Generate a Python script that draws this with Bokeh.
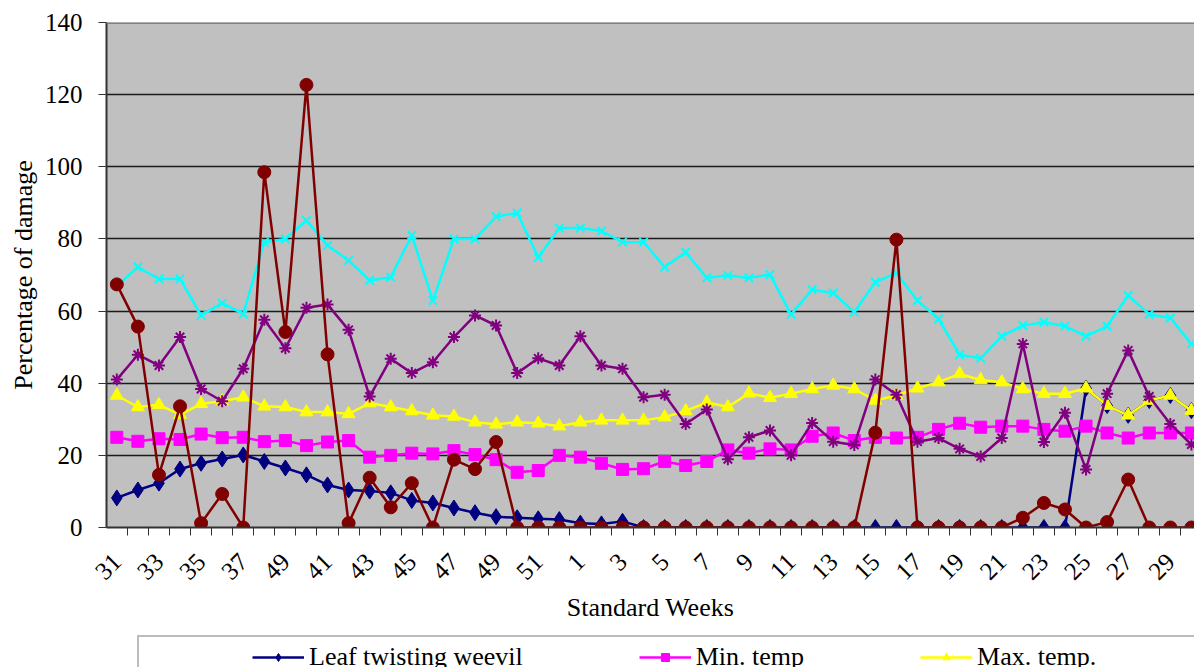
import math
from bokeh.plotting import figure
from bokeh.layouts import column
from bokeh.models import Range1d, FixedTicker, Legend, LegendItem, Span
from bokeh.embed import file_html
from bokeh.resources import INLINE

# ---- data -------------------------------------------------------------
week_labels = ["31", "32", "33", "34", "35", "36", "37", "38", "49", "40",
               "41", "42", "43", "44", "45", "46", "47", "48", "49", "50",
               "51", "52", "1", "2", "3", "4", "5", "6", "7", "8", "9", "10",
               "11", "12", "13", "14", "15", "16", "17", "18", "19", "20",
               "21", "22", "23", "24", "25", "26", "27", "28", "29", "30"]

weevil = [8.2, 10.4, 12.3, 16.2, 17.8, 19.0, 20.1, 18.3, 16.5, 14.6, 11.8, 10.4,
          10.1, 9.6, 7.5, 6.8, 5.4, 4.1, 3.0, 2.7, 2.4, 2.2, 1.2, 1.0, 1.7,
          0, 0, 0, 0, 0, 0, 0, 0, 0, 0, 0, 0, 0, 0, 0, 0, 0, 0, 0, 0, 0,
          38.6, 33.8, 31.1, 35.2, 36.6, 32.4]

min_temp = [25.0, 23.9, 24.6, 24.4, 25.9, 24.9, 25.0, 23.8, 24.1, 22.7, 23.7, 24.1,
            19.5, 20.0, 20.6, 20.4, 21.3, 20.2, 18.8, 15.3, 15.8, 20.0, 19.5, 17.8,
            16.1, 16.3, 18.3, 17.2, 18.3, 21.5, 20.6, 21.8, 21.5, 25.3, 26.2, 24.1,
            25.0, 24.8, 25.0, 27.2, 28.9, 27.8, 28.1, 28.1, 27.2, 26.7, 28.1, 26.2,
            24.8, 26.2, 26.2, 26.2]

max_temp = [36.6, 33.4, 34.0, 31.3, 34.3, 35.0, 36.1, 33.6, 33.4, 32.0, 32.0, 31.5,
            34.5, 33.4, 32.3, 31.1, 30.8, 29.2, 28.6, 29.2, 28.9, 28.1, 29.2, 29.7,
            29.7, 29.7, 30.6, 32.3, 34.7, 33.4, 37.2, 36.0, 37.1, 38.4, 39.4, 38.4,
            35.2, 36.6, 38.6, 40.3, 42.6, 40.9, 40.3, 38.4, 37.1, 37.1, 38.6, 33.8,
            31.1, 35.2, 36.6, 32.4]

rh_morning = [67.0, 72.2, 68.9, 68.9, 58.8, 62.2, 59.2, 79.1, 80.0, 85.1, 78.2, 74.0,
              68.5, 69.4, 81.0, 62.9, 80.0, 80.0, 86.2, 87.2, 74.9, 83.0, 83.0, 82.2,
              79.1, 79.1, 72.2, 76.3, 69.2, 69.9, 69.2, 70.1, 59.1, 65.9, 65.0, 59.7,
              68.0, 70.5, 62.9, 57.8, 47.9, 46.9, 53.0, 56.0, 56.9, 55.8, 53.0, 55.8,
              64.3, 59.1, 58.1, 50.9]

rh_evening = [41.0, 47.9, 44.9, 52.8, 38.4, 35.0, 44.0, 57.6, 49.7, 60.9, 61.8, 54.8,
              36.3, 46.8, 42.8, 45.8, 52.8, 58.8, 56.0, 42.8, 46.9, 44.9, 53.0, 44.9,
              44.0, 36.1, 36.8, 28.7, 32.7, 18.9, 25.0, 26.9, 20.0, 29.0, 23.8, 22.9,
              41.0, 36.8, 23.8, 24.8, 21.8, 19.7, 24.8, 50.9, 23.7, 31.8, 16.1, 37.1,
              49.1, 36.3, 28.7, 23.0]

rainfall = [67.4, 55.7, 14.6, 33.6, 1.2, 9.3, 0, 98.5, 54.2, 122.7, 48.0, 1.2,
            13.8, 5.6, 12.3, 0, 18.8, 16.2, 23.7, 0, 0, 0, 0, 0, 0, 0, 0, 0, 0, 0,
            0, 0, 0, 0, 0, 0, 26.3, 79.8, 0, 0, 0, 0, 0, 2.7, 6.8, 5.0, 0, 1.5,
            13.3, 0, 0, 0]

y_ticks = [0, 20, 40, 60, 80, 100, 120, 140]

# ---- chart --------------------------------------------------------------
FONT = "'Times New Roman', 'Liberation Serif', serif"
xs = list(range(len(week_labels)))

p = figure(width=1194, height=634, output_backend="svg", toolbar_location=None,
           x_range=Range1d(-0.49, -0.49 + 1088 / 21.07), y_range=Range1d(0, 140),
           min_border_left=106, min_border_right=0, min_border_top=22,
           min_border_bottom=107)
p.background_fill_color = "#C0C0C0"
p.border_fill_color = "white"
p.outline_line_color = None

xa = p.xaxis[0]
xa.ticker = FixedTicker(ticks=xs[::2], minor_ticks=[i - 0.5 for i in range(len(xs) + 1)])
xa.major_label_overrides = {i: week_labels[i] for i in xs[::2]}
xa.major_label_orientation = math.pi / 4
xa.major_tick_line_color = None
xa.minor_tick_line_color = "#333333"
xa.minor_tick_in = 0
xa.minor_tick_out = 8
xa.axis_line_color = "#333333"
xa.axis_line_width = 2
xa.major_label_text_font = FONT
xa.major_label_text_font_size = "25px"
xa.major_label_text_color = "black"
xa.major_label_standoff = 22
xa.axis_label = "Standard Weeks"
xa.axis_label_text_font = FONT
xa.axis_label_text_font_size = "26px"
xa.axis_label_text_font_style = "normal"
xa.axis_label_text_color = "black"
xa.axis_label_standoff = 3

ya = p.yaxis[0]
ya.ticker = FixedTicker(ticks=y_ticks)
ya.minor_tick_line_color = None
ya.major_tick_in = 0
ya.major_tick_out = 8
ya.major_tick_line_color = "#333333"
ya.axis_line_color = "#333333"
ya.axis_line_width = 2
ya.major_label_text_font = FONT
ya.major_label_text_font_size = "25px"
ya.major_label_text_color = "black"
ya.major_label_standoff = 16
ya.axis_label = "Percentage of damage"
ya.axis_label_text_font = FONT
ya.axis_label_text_font_size = "26px"
ya.axis_label_text_font_style = "normal"
ya.axis_label_text_color = "black"
ya.axis_label_standoff = 4

p.xgrid.grid_line_color = None
p.ygrid.ticker = FixedTicker(ticks=y_ticks[1:-1])
p.ygrid.grid_line_color = "#1a1a1a"
p.ygrid.grid_line_width = 1.5
p.add_layout(Span(location=140, dimension="width", line_color="#808080", line_width=3))

series = [
    ("Leaf twisting weevil", weevil, "#000080", "diamond", 16),
    ("Min. temp", min_temp, "#FF00FF", "square", 12),
    ("Max. temp.", max_temp, "#FFFF00", "triangle", 13),
    ("Morning RH", rh_morning, "#00FFFF", "x", 12),
    ("Evening RH", rh_evening, "#800080", "asterisk", 12),
    ("Rainfall", rainfall, "#800000", "circle", 13),
]


def draw(fig, name, xv, yv, color, marker, size):
    lr = fig.line(xv, yv, line_color=color, line_width=2.5)
    if marker in ("x", "asterisk"):
        sr = fig.scatter(xv, yv, marker=marker, size=size, line_color=color, line_width=2)
    else:
        sr = fig.scatter(xv, yv, marker=marker, size=size, fill_color=color, line_color=color)
    return LegendItem(label=name, renderers=[lr, sr])


for name, vals, color, marker, size in series:
    draw(p, name, xs, vals, color, marker, size)

# ---- legend strip (cropped at the bottom, as in the original) ----------
LH = 33
FRAME_LEFT = 106   # the column aligns this strip's frame with the chart's frame
q = figure(width=1194, height=LH, output_backend="svg", toolbar_location=None,
           x_axis_type=None, y_axis_type=None,
           x_range=Range1d(0, 1), y_range=Range1d(0, 1),
           min_border_left=0, min_border_right=0, min_border_top=0, min_border_bottom=0)
q.outline_line_color = None
q.background_fill_color = "white"
q.border_fill_color = "white"

# legend keys: one point each, placed outside the strip's visible range
legend_items = [draw(q, name, [-5], [-5], color, marker, size)
                for name, vals, color, marker, size in series[:3]]

frame_item = LegendItem(label=" ", renderers=[q.line([-5, -4], [-5, -5], line_alpha=0)])
box = Legend(items=[frame_item], orientation="horizontal",
             location=(137 - FRAME_LEFT, LH - 60 - 5), glyph_width=1150, glyph_height=60,
             padding=0, label_standoff=0, label_width=1, label_text_font_size="10px",
             border_line_color="#7a7a7a", border_line_width=2,
             background_fill_color="white", background_fill_alpha=1.0, margin=0)
q.add_layout(box, "center")

legend = Legend(items=legend_items, orientation="horizontal",
                location=(252 - FRAME_LEFT, LH - 41 + 3),
                glyph_width=52, glyph_height=20, label_standoff=5, spacing=116,
                padding=6, label_text_font=FONT, label_text_font_size="26px",
                label_text_color="black", border_line_color=None,
                background_fill_alpha=0.0, margin=0)
q.add_layout(legend, "center")

open("out.html", "w").write(file_html(column(p, q, spacing=0), INLINE))
